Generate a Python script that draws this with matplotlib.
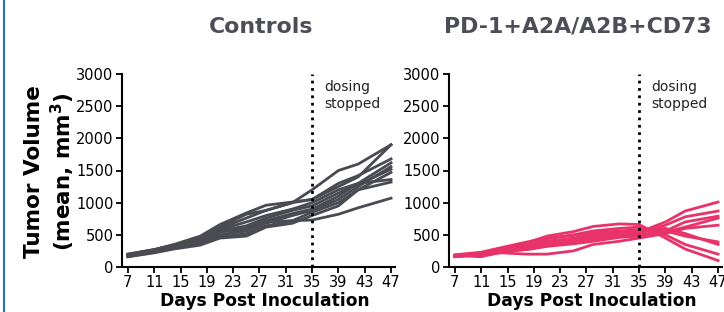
import numpy as np
import matplotlib
matplotlib.use("Agg")
from matplotlib import pyplot as plt
from matplotlib.lines import Line2D

# measurement days (post inoculation)
days = [7, 11, 14, 18, 21, 25, 28, 32, 35, 39, 42, 47]

# controls, one list per group
controls = [
    [200, 270, 340, 450, 600, 760, 880, 1000, 1200, 1500, 1600, 1900],
    [180, 260, 330, 430, 620, 820, 880, 1000, 1050, 1250, 1400, 1900],
    [190, 270, 350, 480, 660, 840, 960, 1010, 1050, 1300, 1420, 1680],
    [170, 240, 300, 400, 540, 600, 720, 830, 900, 1100, 1300, 1620],
    [160, 230, 290, 370, 500, 560, 680, 800, 880, 1050, 1250, 1560],
    [180, 250, 320, 420, 560, 640, 760, 880, 950, 1150, 1280, 1520],
    [170, 240, 290, 360, 460, 520, 640, 720, 850, 1000, 1200, 1470],
    [200, 270, 340, 440, 580, 700, 800, 900, 1000, 1200, 1300, 1360],
    [160, 220, 280, 340, 450, 480, 620, 680, 800, 950, 1200, 1320],
    [180, 250, 310, 380, 480, 600, 700, 720, 730, 820, 920, 1070],
]

# PD-1+A2A/A2B+CD73
treated = [
    [180, 220, 290, 380, 480, 550, 630, 670, 660, 450, 280, 100],
    [170, 200, 270, 350, 440, 500, 560, 600, 620, 500, 350, 200],
    [190, 230, 300, 390, 450, 490, 530, 560, 580, 560, 480, 390],
    [160, 200, 260, 330, 400, 450, 500, 530, 560, 600, 520, 350],
    [180, 210, 270, 340, 400, 440, 480, 510, 540, 700, 870, 1010],
    [170, 190, 250, 300, 360, 410, 450, 490, 520, 650, 780, 870],
    [180, 160, 230, 280, 330, 380, 430, 480, 500, 560, 700, 790],
    [160, 190, 240, 270, 320, 360, 400, 460, 480, 540, 620, 760],
    [170, 180, 220, 200, 200, 250, 350, 400, 450, 520, 600, 650],
]

xticks = list(range(7, 48, 4))
yticks = [0, 500, 1000, 1500, 2000, 2500, 3000]
stop_day = 35

W, H = 724, 312
fig = plt.figure(figsize=(W / 100, H / 100), dpi=100)

def px(x0, y0, x1, y1):
    # pixel box -> figure fraction rect
    return [x0 / W, 1 - y1 / H, (x1 - x0) / W, (y1 - y0) / H]

panels = [
    ("Controls", controls, "#4a4a52", px(122, 74, 395, 267), 261, 265),
    ("PD-1+A2A/A2B+CD73", treated, "#e8336a", px(449, 74, 722, 267), 578, 592),
]

for i, (title, groups, color, rect, tx, lx) in enumerate(panels):
    ax = fig.add_axes(rect)
    for g in groups:
        ax.plot(days, g, color=color, lw=2, solid_joinstyle="round")
    ax.plot([stop_day, stop_day], [0, 3000], color="black", ls=":", lw=2)
    ax.text(36.8, 2900, "dosing\nstopped", fontsize=10, va="top", ha="left",
            color="#222222", linespacing=1.2)
    ax.set_xlim(6.1, 47.6)
    ax.set_ylim(0, 3000)
    ax.set_xticks(xticks)
    ax.set_yticks(yticks)
    ax.tick_params(labelsize=10.5, width=1.3, length=4, pad=2, direction="out",
                   colors="black")
    for s in ["top", "right"]:
        ax.spines[s].set_visible(False)
    for s in ["left", "bottom"]:
        ax.spines[s].set_linewidth(1.5)
    ax.spines["left"].set_bounds(0, 3000)
    fig.text(tx / W, 1 - 27 / H, title, fontsize=15.8, fontweight="bold",
             color="#4d4d57", ha="center", va="center")
    fig.text(lx / W, 1 - 292 / H, "Days Post Inoculation", fontsize=12.3,
             fontweight="bold", ha="center", va="top")

fig.text(34 / W, 1 - 172 / H, "Tumor Volume", fontsize=15.5, fontweight="bold",
         rotation=90, ha="center", va="center")
fig.text(63 / W, 1 - 172 / H, "(mean, mm$^\\mathbf{3}$)", fontsize=15.5,
         fontweight="bold", rotation=90, ha="center", va="center")

# blue frame edge on the left
fig.add_artist(Line2D([4 / W, 4 / W], [0, 1], color="#2a6ebb", lw=1.5))

fig.savefig("out.png", dpi=100)
